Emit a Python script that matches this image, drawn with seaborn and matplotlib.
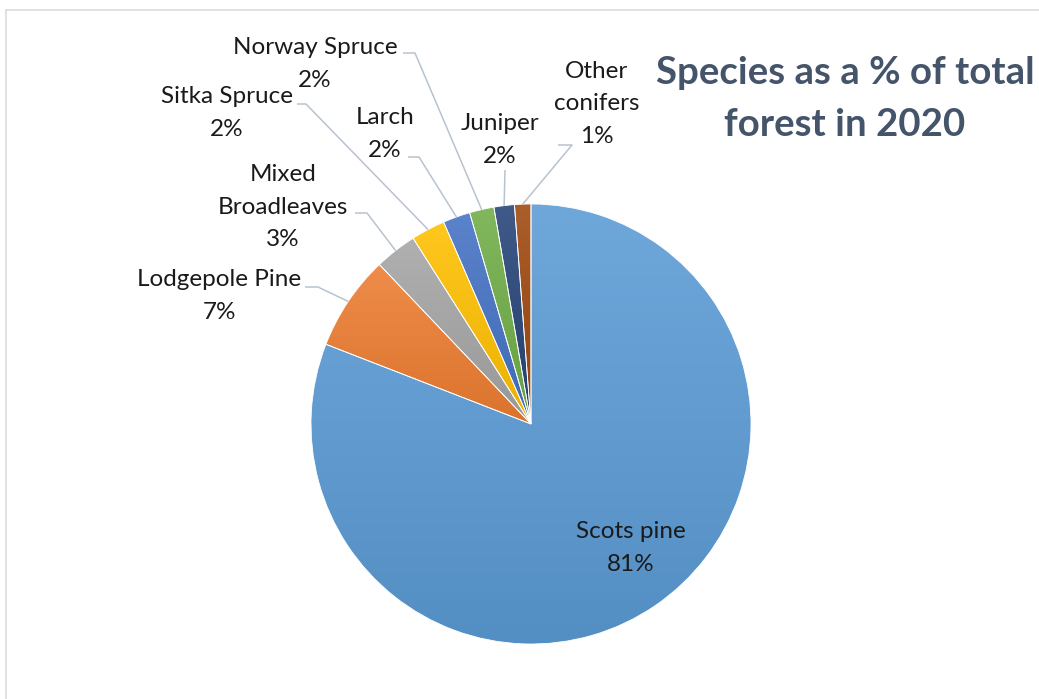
import numpy as np
import matplotlib.pyplot as plt
import matplotlib.colors as mcolors
from matplotlib.lines import Line2D
import seaborn as sns

sns.set_theme(style='white')
plt.rcParams['font.family'] = ['Lato', 'DejaVu Sans']

species = ['Scots pine', 'Lodgepole Pine', 'Mixed\nBroadleaves', 'Sitka Spruce',
           'Larch', 'Norway Spruce', 'Juniper', 'Other\nconifers']
share = [80.9, 7.0, 3.1, 2.5, 2.0, 1.8, 1.5, 1.2]
colours = ['#5B9BD5', '#ED7D31', '#A5A5A5', '#FFC000',
           '#4472C4', '#70AD47', '#264478', '#9E480E']
title = 'Species as a % of total\nforest in 2020'

W, H = 1039, 699
def up(y):
    # pixel row (from top) -> axes y (from bottom)
    return H - y

# label layout: text centre, leader start, leader elbow (pixels from top-left)
label_pos = {
    'Scots pine':         ((631, 548), None, None),
    'Lodgepole Pine':     ((219, 296), (305, 287), (318, 287)),
    'Mixed\nBroadleaves': ((283, 207), (355, 213), (367, 213)),
    'Sitka Spruce':       ((227, 113), (297, 104), (306, 104)),
    'Larch':              ((385, 134), (408, 157), (419, 157)),
    'Norway Spruce':      ((315, 64), (403, 53), (415, 53)),
    'Juniper':            ((500, 140), (505, 170), (505, 170)),
    'Other\nconifers':    ((597, 104), (558, 145), (572, 145)),
}

fig = plt.figure(figsize=(W / 100, H / 100), dpi=100)
ax = fig.add_axes([0, 0, 1, 1])

cx, cy, r = 531, up(424), 220
wedges, _ = ax.pie(share, colors=colours, startangle=90, counterclock=False,
                   center=(cx, cy), radius=r, frame=True,
                   wedgeprops=dict(edgecolor='white', linewidth=0.6))
ax.set_xlim(0, W)
ax.set_ylim(0, H)
ax.set_axis_off()

# soft vertical gradient in each slice, lighter on top
for w, c in zip(wedges, colours):
    base = np.array(mcolors.to_rgb(c))
    top = base + (1 - base) * 0.12
    bot = base * 0.92
    cmap = mcolors.LinearSegmentedColormap.from_list('g', [bot, top])
    ext = w.get_path().get_extents()
    grad = np.linspace(0, 1, 256).reshape(-1, 1)
    im = ax.imshow(grad, cmap=cmap, extent=[ext.x0, ext.x1, ext.y0, ext.y1],
                   origin='lower', aspect='auto', zorder=w.get_zorder(),
                   interpolation='bilinear')
    im.set_clip_path(w)
    w.set_zorder(w.get_zorder() + 0.1)
    w.set_facecolor('none')

leader = '#B8C3D0'
for w, name, v in zip(wedges, species, share):
    (tx, ty), start, elbow = label_pos[name]
    ax.text(tx, up(ty), f'{name}\n{round(v)}%', ha='center', va='center',
            fontsize=17.5, color='#1a1a1a', linespacing=1.68, zorder=5)
    if start is None:
        continue
    mid = np.deg2rad((w.theta1 + w.theta2) / 2)
    ex, ey = cx + r * np.cos(mid), cy + r * np.sin(mid)
    ax.plot([start[0], elbow[0], ex], [up(start[1]), up(elbow[1]), ey],
            color=leader, lw=1.1, zorder=4, solid_capstyle='butt')

ax.text(845, up(99), title, ha='center', va='center', fontsize=27.6,
        fontweight='bold', color='#44546A', linespacing=1.62, zorder=5)

# chart area border (top and left edges visible)
fig.add_artist(Line2D([6 / W, 1], [up(10) / H, up(10) / H],
                      transform=fig.transFigure, color='#D9DCE3', lw=1.2))
fig.add_artist(Line2D([6 / W, 6 / W], [0, up(10) / H],
                      transform=fig.transFigure, color='#D9DCE3', lw=1.2))

fig.savefig('out.png', dpi=100)
